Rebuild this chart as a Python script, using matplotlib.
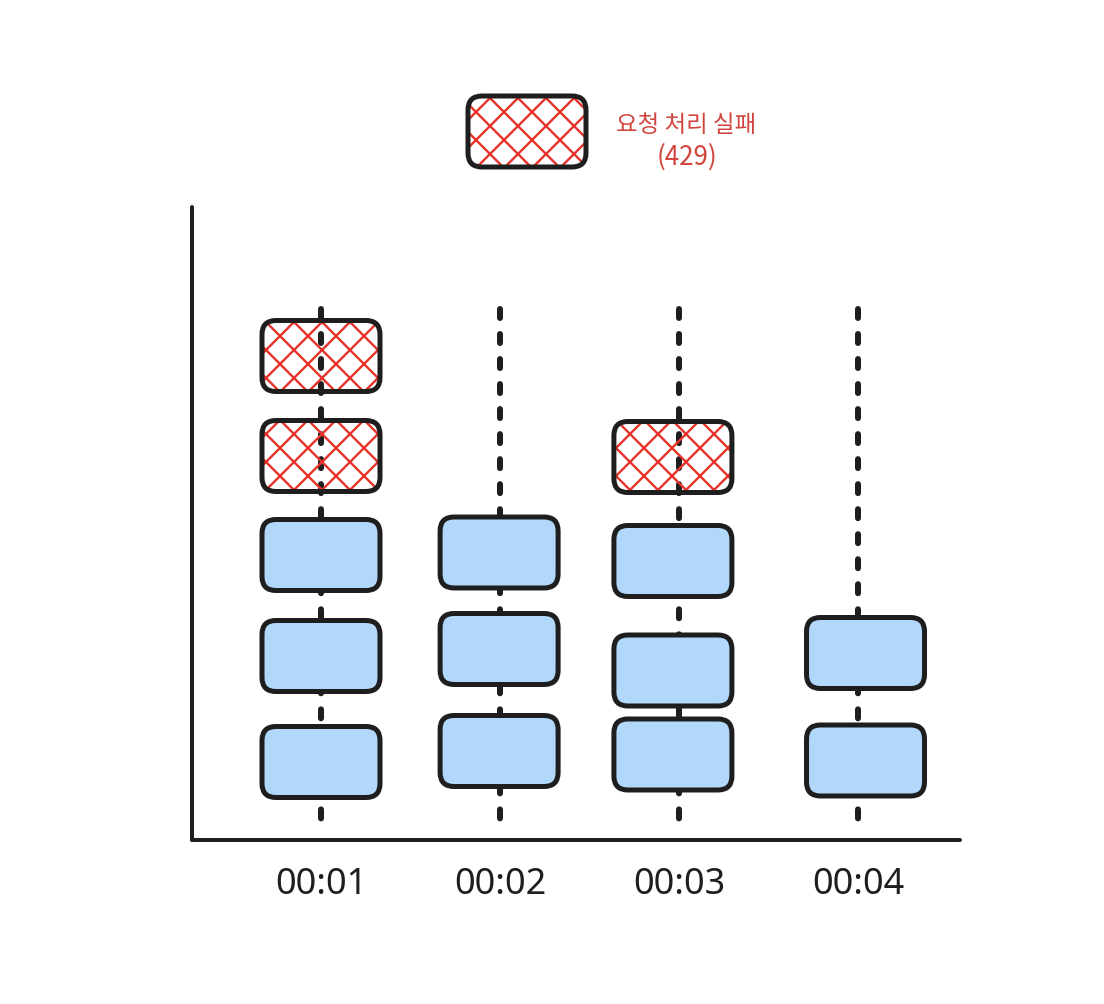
import numpy as np
import matplotlib
matplotlib.use('Agg')
import matplotlib.pyplot as plt
from matplotlib.patches import FancyBboxPatch

# DATA: requests arriving in each second, stacked slot levels
times = ['00:01', '00:02', '00:03', '00:04']
ok_levels = [[0.78, 1.84, 2.85], [0.89, 1.91, 2.875], [0.855, 1.695, 2.79], [0.795, 1.87]]
fail_levels = [[3.84, 4.84], [], [3.83], []]
legend_label = ['요청 처리 실패', '(429)']

# STYLE
DPI = 168                 # hatch 'xx' spacing = DPI / 6 px
W_PX, H_PX = 1104, 1004
DARK = '#1e1e1e'
BLUE = '#b1d7fa'
RED = '#e8352c'
TEXT_RED = '#d2453f'
X_PX = 179.0              # pixels per category
Y_PX = 100.0              # pixels per y unit
col_shift = [0.0, -0.005, -0.034, 0.042]   # hand-drawn boxes sit a bit off the line


def pt(px):
    # pixels -> points
    return px * 72.0 / DPI


plt.rcParams['hatch.linewidth'] = pt(2.4)

fig = plt.figure(figsize=(W_PX / DPI, H_PX / DPI), dpi=DPI)
ax = fig.add_axes([192 / W_PX, (H_PX - 840) / H_PX, 768 / W_PX, 633 / H_PX])
ax.set_xlim((192 - 321) / X_PX, (960 - 321) / X_PX)
ax.set_ylim(0, 633 / Y_PX)

box_w = 118 / X_PX
box_h = 71 / Y_PX
radius = 14 / X_PX
aspect = X_PX / Y_PX


def draw_box(xc, yc, failed, clip=True):
    x0, y0 = xc - box_w / 2, yc - box_h / 2
    style = 'round,pad=0,rounding_size=%f' % radius
    if failed:
        hatch = FancyBboxPatch((x0, y0), box_w, box_h, boxstyle=style, mutation_aspect=aspect,
                               facecolor='none', edgecolor=RED, linewidth=0, hatch='xx',
                               zorder=3, clip_on=clip)
        ax.add_patch(hatch)
        face = 'none'
    else:
        face = BLUE
    box = FancyBboxPatch((x0, y0), box_w, box_h, boxstyle=style, mutation_aspect=aspect,
                         facecolor=face, edgecolor=DARK, linewidth=pt(5),
                         zorder=4 if failed else 2, clip_on=clip)
    ax.add_patch(box)


# dashed time lines
for i in range(len(times)):
    ax.plot([i, i], [(840 - 309) / Y_PX, (840 - 822) / Y_PX], color=DARK, lw=pt(6),
            ls=(0, (1.5, 2.67)), dash_capstyle='round', zorder=1)

# request boxes
for i in range(len(times)):
    for y in ok_levels[i]:
        draw_box(i + col_shift[i], y, False)
    for y in fail_levels[i]:
        draw_box(i + col_shift[i], y, True)

# legend
draw_box((527 - 321) / X_PX, (840 - 131.5) / Y_PX, True, clip=False)
ax.text((686 - 321) / X_PX, (840 - 125) / Y_PX, legend_label[0], color=TEXT_RED,
        fontsize=pt(23.5), family=['Noto Sans CJK KR', 'DejaVu Sans'],
        ha='center', va='center', clip_on=False)
ax.text((687 - 321) / X_PX, (840 - 157) / Y_PX, legend_label[1], color=TEXT_RED,
        fontsize=pt(26), family=['Noto Sans CJK KR', 'DejaVu Sans'],
        ha='center', va='center', clip_on=False)

# axes
ax.set_xticks(range(len(times)))
ax.set_xticklabels(times, fontsize=pt(36), family='Noto Sans', color=DARK)
ax.tick_params(axis='x', length=0, pad=pt(27))
ax.set_yticks([])
for side in ['top', 'right']:
    ax.spines[side].set_visible(False)
for side in ['left', 'bottom']:
    ax.spines[side].set_linewidth(pt(4))
    ax.spines[side].set_color(DARK)
    ax.spines[side].set_capstyle('round')

fig.savefig('out.png', dpi=DPI, facecolor='white')
